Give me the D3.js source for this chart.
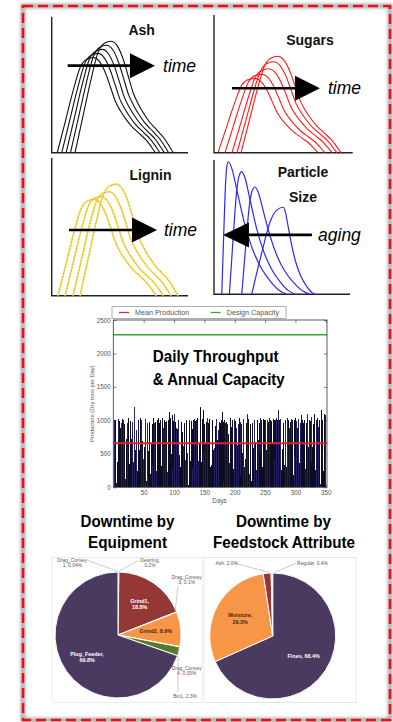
<!DOCTYPE html>
<html>
<head>
<meta charset="utf-8">
<script src="https://d3js.org/d3.v7.min.js"></script>
<style>
  body { margin: 0; background: #fff; }
  svg { display: block; }
</style>
</head>
<body>
<svg id="chart" width="393" height="722"></svg>
<script>
// ---------- data: schematic distributions ----------
// bell profile: [x offset, fraction of peak height]
const bellShape = [[0,0],[5.9,.33],[11.8,.66],[16.9,.9],[21.3,.98],[26.5,1],[30.9,.96],[35.3,.84],[39,.69],[42.6,.54],[46.3,.44],[50,.36],[54.4,.28],[60.3,.2],[65.4,.13],[69.1,.06],[72,0]];
const ashStarts = [4.1, 7.4, 10.6, 13.8, 17.1];
const ashPeaks = [70, 73, 76, 79, 82];
const sugarStarts = [2.9, 7.9, 13, 16.6, 19.5];
const sugarPeaks = [54, 57, 61, 66, 70];
const ligninStarts = [4.6, 9.8, 15.6, 20.8];
const ligninPeaks = [70, 72, 75.5, 81];
// particle size: skewed humps
const sizeRise = [[0,0],[.3,.45],[.6,.85],[.8,.97],[1,1]];
const sizeFall = [[0,1],[.06,.95],[.15,.78],[.27,.55],[.4,.36],[.55,.21],[.72,.1],[.87,.03],[1,0]];
const sizeStarts = [5.7, 11.3, 20.4, 27.7];
const sizePeakX = [10.5, 20.4, 30.1, 51];
const sizePeakH = [98.7, 91.3, 79.9, 64.8];
const sizeEnds = [53.4, 59.8, 70.6, 74.3];

// ---------- data: daily throughput ----------
const production = [
  450,1000,620,1010,60,940,380,1020,700,990,210,880,300,960,1020,530,1010,640,950,120,1000,720,960,480,1040,
  910,350,990,1010,720,160,980,380,1020,1200,560,160,860,990,250,1000,810,560,970,1030,90,1000,690,1050,420,
  600,990,1020,300,100,960,1090,540,850,980,200,970,640,950,330,1030,700,960,150,980,250,990,1010,590,1030,
  960,430,1000,320,980,1040,170,890,1010,600,980,280,990,230,960,1010,480,1130,1030,700,500,1080,260,990,1110,
  1090,980,60,890,540,870,1010,750,480,950,300,980,280,830,990,620,960,850,410,960,1000,520,920,30,1010,
  960,400,980,990,870,280,1010,570,1020,990,160,1000,900,1030,390,1060,640,990,1200,380,980,1020,1160,520,940,
  1050,660,200,980,1040,450,960,760,1020,300,960,340,1000,1050,560,1010,590,920,180,1020,990,700,860,420,980,
  220,960,1000,560,1130,980,80,1000,60,960,630,980,940,330,800,370,980,1040,600,900,1010,250,280,1000,1020,
  990,450,890,960,630,940,260,1040,980,170,940,890,520,960,1020,300,860,420,960,1000,1100,630,1020,200,1000,
  950,380,100,960,1010,580,940,1000,680,1010,260,880,1000,700,400,960,1040,520,1010,990,310,1020,60,1000,980,
  1010,560,1020,1000,470,970,1040,290,1000,870,990,640,220,1020,1000,410,1000,1010,1040,580,1000,1150,60,1000,1020,
  930,260,1010,570,960,1020,340,990,1000,300,960,1040,610,1010,880,150,970,1020,630,1000,960,180,1010,480,1040,
  1100,990,880,350,1020,1000,360,960,1010,1080,560,1000,960,560,1000,1090,270,960,980,1100,600,120,1000,1010,990,
  1050,380,600,1060,940,1100,420,260,980,1010,1030,560,900,1060,1000,50,1090,1160,1170,1010,240,1100,1090,300,1080
];
const meanProduction = 660;
const designCapacity = 2280;
const yTicks = [0, 500, 1000, 1500, 2000, 2500];
const xTicks = [50, 100, 150, 200, 250, 300, 350];

// ---------- data: downtime pies ----------
const equipNames = ["Drag_Conveyor1", "Destring", "Grind1", "Drag_Conveyor3", "Grind2", "Drag_Conveyor4", "Bin1", "Plug_Feeder"];
const equipShare = [0.04, 0.2, 18.8, 0.1, 8.9, 0.05, 2.3, 69.8];
const equipColors = ["#4f81bd", "#c0504d", "#953735", "#8064a2", "#f79646", "#4bacc6", "#567a2c", "#4b3a60"];
const feedNames = ["Fines", "Moisture", "Ash", "Regular"];
const feedShare = [68.4, 29.3, 2.0, 0.4];
const feedColors = ["#4b3a60", "#f79646", "#953735", "#8eb4e3"];

const svg = d3.select("#chart");

// ---------- dashed frame with soft shadow ----------
const defs = svg.append("defs");
defs.append("filter").attr("id", "soft").attr("x", "-5%").attr("y", "-5%").attr("width", "110%").attr("height", "110%")
  .append("feGaussianBlur").attr("stdDeviation", 1.8);
svg.append("rect").attr("x", 23).attr("y", 6).attr("width", 367).attr("height", 714)
  .attr("fill", "none").attr("stroke", "#b4b4b4").attr("stroke-width", 5).attr("filter", "url(#soft)");
svg.append("rect").attr("x", 23).attr("y", 6).attr("width", 367).attr("height", 714)
  .attr("fill", "none").attr("stroke", "#e8101a").attr("stroke-width", 2.6).attr("stroke-dasharray", "10,5");

// ---------- schematic panels ----------
const panels = [
  {x0: 51.7, x1: 188, y0: 16.7, y1: 152.7},   // Ash
  {x0: 214, x1: 352.7, y0: 15, y1: 152.7},    // Sugars
  {x0: 51.7, x1: 188, y0: 158, y1: 295.7},    // Lignin
  {x0: 214, x1: 350, y0: 160, y1: 294.3}      // Particle size
];
panels.forEach(p => {
  p.xs = d3.scaleLinear([0, 100], [p.x0, p.x1]);
  p.ys = d3.scaleLinear([0, 100], [p.y1, p.y0]);
  p.g = svg.append("g");
  p.g.append("path")
    .attr("d", `M${p.x0},${p.y0}V${p.y1}H${p.x1}`)
    .attr("fill", "none").attr("stroke", "#222").attr("stroke-width", 1.4);
});

function curveLine(p) {
  return d3.line().x(d => p.xs(d[0])).y(d => p.ys(d[1])).curve(d3.curveMonotoneX);
}
function bell(start, peak) {
  return bellShape.map(([u, v]) => [start + u, v * peak]);
}

// Ash
panels[0].g.selectAll("path.c").data(ashStarts).join("path").attr("class", "c")
  .attr("d", (s, i) => curveLine(panels[0])(bell(s, ashPeaks[i])))
  .attr("fill", "none").attr("stroke", "#111").attr("stroke-width", 1.1);
// Sugars
panels[1].g.selectAll("path.c").data(sugarStarts).join("path").attr("class", "c")
  .attr("d", (s, i) => curveLine(panels[1])(bell(s, sugarPeaks[i])))
  .attr("fill", "none").attr("stroke", "#ff1a1a").attr("stroke-width", 1.1);
// Lignin: yellow with dotted red core
panels[2].g.selectAll("path.c").data(ligninStarts).join("path").attr("class", "c")
  .attr("d", (s, i) => curveLine(panels[2])(bell(s, ligninPeaks[i])))
  .attr("fill", "none").attr("stroke", "#f0e040").attr("stroke-width", 1.7);
panels[2].g.selectAll("path.d").data(ligninStarts).join("path").attr("class", "d")
  .attr("d", (s, i) => curveLine(panels[2])(bell(s, ligninPeaks[i])))
  .attr("fill", "none").attr("stroke", "#e06a5a").attr("stroke-width", 0.7).attr("stroke-dasharray", "1,2.2");
// Particle size
panels[3].g.selectAll("path.c").data(sizeStarts).join("path").attr("class", "c")
  .attr("d", (s, i) => {
    const pk = sizePeakX[i], e = sizeEnds[i], h = sizePeakH[i];
    const pts = sizeRise.map(([t, v]) => [s + t * (pk - s), v * h])
      .concat(sizeFall.slice(1).map(([t, v]) => [pk + t * (e - pk), v * h]));
    return curveLine(panels[3])(pts);
  })
  .attr("fill", "none").attr("stroke", "#2b2bf0").attr("stroke-width", 1.2);

// arrows and labels (panel units)
const arrows = [
  {from: 11.7, base: 57.4, tip: 75.8, y: 64, word: "time", wx: 81.7},
  {from: 13, base: 58.4, tip: 76.4, y: 46.8, word: "time", wx: 82.2},
  {from: 12.7, base: 58.9, tip: 77.3, y: 47.7, word: "time", wx: 82.4},
  {from: 72, base: 25.7, tip: 6.6, y: 44.2, word: "aging", wx: 76.5}
];
arrows.forEach((a, i) => {
  const p = panels[i];
  const yy = p.ys(a.y);
  p.g.append("line").attr("x1", p.xs(a.from)).attr("x2", p.xs(a.base)).attr("y1", yy).attr("y2", yy)
    .attr("stroke", "#000").attr("stroke-width", 2.7);
  p.g.append("path")
    .attr("d", `M${p.xs(a.base)},${yy - 12.5}L${p.xs(a.tip)},${yy}L${p.xs(a.base)},${yy + 12.5}Z`)
    .attr("fill", "#000");
  p.g.append("text").attr("x", p.xs(a.wx)).attr("y", yy).attr("dy", "0.35em")
    .attr("font-family", "Liberation Sans, Arial, sans-serif").attr("font-style", "italic")
    .attr("font-size", 17.5).attr("fill", "#000").text(a.word);
});
const panelTitles = [
  [{t: "Ash", x: 66, y: 86.5}],
  [{t: "Sugars", x: 69.2, y: 78.2}],
  [{t: "Lignin", x: 72.5, y: 84}],
  [{t: "Particle", x: 65.4, y: 87.2}, {t: "Size", x: 65.4, y: 68.6}]
];
panelTitles.forEach((ts, i) => {
  const p = panels[i];
  ts.forEach(t => {
    p.g.append("text").attr("x", p.xs(t.x)).attr("y", p.ys(t.y)).attr("text-anchor", "middle")
      .attr("font-family", "Liberation Sans, Arial, sans-serif").attr("font-weight", "bold")
      .attr("font-size", 14).attr("fill", "#111").text(t.t);
  });
});

// ---------- daily throughput bar chart ----------
const plot = {left: 113.3, right: 327, top: 320, bottom: 487.3};
const x = d3.scaleLinear([0, 352], [plot.left, plot.right]);
const y = d3.scaleLinear([0, 2500], [plot.bottom, plot.top]);
const bc = svg.append("g");
const bw = x(1.15) - x(0);
bc.selectAll("rect.bar").data(production).join("rect").attr("class", "bar")
  .attr("x", (d, i) => x(i + 1) - bw / 2).attr("width", bw)
  .attr("y", d => y(d)).attr("height", d => y(0) - y(d))
  .attr("fill", (d, i) => i % 3 === 1 ? "#232360" : "#0c0c22")
  .attr("shape-rendering", "crispEdges");
bc.append("line").attr("x1", plot.left).attr("x2", plot.right).attr("y1", y(meanProduction)).attr("y2", y(meanProduction))
  .attr("stroke", "#d9262b").attr("stroke-width", 2);
bc.append("line").attr("x1", plot.left).attr("x2", plot.right).attr("y1", y(designCapacity)).attr("y2", y(designCapacity))
  .attr("stroke", "#3aa63a").attr("stroke-width", 1.6);
bc.append("rect").attr("x", plot.left).attr("y", plot.top).attr("width", plot.right - plot.left).attr("height", plot.bottom - plot.top)
  .attr("fill", "none").attr("stroke", "#333").attr("stroke-width", 0.8);

const tickFont = "Liberation Sans, Arial, sans-serif";
const yl = bc.append("g").attr("transform", `translate(${plot.left},0)`)
  .call(d3.axisLeft(y).tickValues(yTicks).tickFormat(d3.format("d")).tickSize(-3).tickPadding(2.5));
const yr = bc.append("g").attr("transform", `translate(${plot.right},0)`)
  .call(d3.axisRight(y).tickValues(yTicks).tickSize(-3).tickFormat(""));
const xb = bc.append("g").attr("transform", `translate(0,${plot.bottom})`)
  .call(d3.axisBottom(x).tickValues(xTicks).tickFormat(d3.format("d")).tickSize(-3).tickPadding(3));
const xt = bc.append("g").attr("transform", `translate(0,${plot.top})`)
  .call(d3.axisTop(x).tickValues(xTicks).tickSize(-3).tickFormat(""));
[yl, yr, xb, xt].forEach(a => {
  a.select(".domain").remove();
  a.selectAll(".tick line").attr("stroke", "#333").attr("stroke-width", 0.6);
  a.selectAll("text").attr("font-family", tickFont).attr("font-size", 6.3).attr("fill", "#555");
});
bc.append("text").attr("x", x(175)).attr("y", 503).attr("text-anchor", "middle")
  .attr("font-family", tickFont).attr("font-size", 6.3).attr("fill", "#555").text("Days");
bc.append("text").attr("transform", `translate(93.5,${y(1250)}) rotate(-90)`).attr("text-anchor", "middle")
  .attr("font-family", tickFont).attr("font-size", 5.8).attr("fill", "#555").text("Production (Dry tons per Day)");

// legend
const lg = bc.append("g");
lg.append("rect").attr("x", 112).attr("y", 306.7).attr("width", 174).attr("height", 11.6)
  .attr("fill", "#fff").attr("stroke", "#777").attr("stroke-width", 0.6);
const legendItems = [
  {label: "Mean Production", color: "#d9262b", x: 119},
  {label: "Design Capacity", color: "#3aa63a", x: 210.7}
];
legendItems.forEach(it => {
  lg.append("line").attr("x1", it.x).attr("x2", it.x + 10).attr("y1", 312.5).attr("y2", 312.5)
    .attr("stroke", it.color).attr("stroke-width", 1.3);
  lg.append("text").attr("x", it.x + 16).attr("y", 312.5).attr("dy", "0.35em")
    .attr("font-family", tickFont).attr("font-size", 7.2).attr("fill", "#555").text(it.label);
});
const titleFont = "Liberation Sans, Arial, sans-serif";
[["Daily Throughput", 361.7, 126], ["& Annual Capacity", 385, 132]].forEach(([t, yy, w]) => {
  bc.append("text").attr("x", 152.7).attr("y", yy).attr("textLength", w).attr("lengthAdjust", "spacingAndGlyphs")
    .attr("font-family", titleFont).attr("font-weight", "bold").attr("font-size", 16.3).attr("fill", "#000").text(t);
});

// ---------- downtime pies ----------
[["Downtime by", 127.5, 526.7, 94], ["Equipment", 127.5, 548.4, 79],
 ["Downtime by", 283.5, 526.7, 95], ["Feedstock Attribute", 284, 548.4, 142]].forEach(([t, xx, yy, w]) => {
  svg.append("text").attr("x", xx - w / 2).attr("y", yy).attr("textLength", w).attr("lengthAdjust", "spacingAndGlyphs")
    .attr("font-family", titleFont).attr("font-weight", "bold").attr("font-size", 16.3).attr("fill", "#000").text(t);
});
// chart area outlines
svg.append("rect").attr("x", 52).attr("y", 557.5).attr("width", 150).attr("height", 145)
  .attr("fill", "none").attr("stroke", "#e4e4e4").attr("stroke-width", 0.7);
svg.append("rect").attr("x", 204).attr("y", 557.5).attr("width", 152).attr("height", 145)
  .attr("fill", "none").attr("stroke", "#dcdcdc").attr("stroke-width", 0.7);

const pie = d3.pie().sort(null).value(d => d);
const R = 63;
const arc = d3.arc().innerRadius(0).outerRadius(R);
const smallFont = "Liberation Sans, Arial, sans-serif";

function drawPie(cx, cy, shares, colors, labelR, inside, outside) {
  const g = svg.append("g").attr("transform", `translate(${cx},${cy})`);
  const arcs = pie(shares);
  g.selectAll("path").data(arcs).join("path").attr("d", arc)
    .attr("fill", (d, i) => colors[i]).attr("stroke", "#fff").attr("stroke-width", 1);
  const la = d3.arc().innerRadius(labelR).outerRadius(labelR);
  inside.forEach(l => {
    const [lx, ly] = la.centroid(arcs[l.i]);
    const t = g.append("text").attr("x", lx).attr("y", ly).attr("text-anchor", "middle")
      .attr("font-family", smallFont).attr("font-weight", "bold").attr("font-size", 5.4).attr("fill", l.color);
    l.lines.forEach((s, k) => t.append("tspan").attr("x", lx).attr("dy", k === 0 ? (l.lines.length > 1 ? "-0.15em" : "0.35em") : "1.15em").text(s));
  });
  outside.forEach(l => {
    if (l.leader) g.append("polyline").attr("points", l.leader.map(p => p.join(",")).join(" "))
      .attr("fill", "none").attr("stroke", "#999").attr("stroke-width", 0.5);
    const t = g.append("text").attr("x", l.dx).attr("y", l.dy).attr("text-anchor", "middle")
      .attr("font-family", smallFont).attr("font-size", 4.9).attr("fill", "#595959");
    l.lines.forEach((s, k) => t.append("tspan").attr("x", l.dx).attr("dy", k === 0 ? 0 : "1.1em").text(s));
  });
}

drawPie(118, 635, equipShare, equipColors, 38,
  [{i: 2, lines: ["Grind1,", "18.8%"], color: "#fff"},
   {i: 4, lines: ["Grind2, 8.9%"], color: "#3a2a1a"},
   {i: 7, lines: ["Plug_Feeder,", "69.8%"], color: "#fff"}],
  [{lines: ["Drag_Convey", "1, 0.04%"], dx: -45.7, dy: -73, leader: [[-30, -74.5], [0, -63.5]]},
   {lines: ["Destring,", "0.2%"], dx: 32, dy: -73, leader: [[20, -74.5], [0.5, -63.5]]},
   {lines: ["Drag_Convey", "3, 0.1%"], dx: 68.7, dy: -56, leader: [[60, -49], [57, -23]]},
   {lines: ["Drag_Convey", "4, 0.05%"], dx: 68.7, dy: 34.5, leader: null},
   {lines: ["Bin1, 2.3%"], dx: 67, dy: 62.5, leader: [[60, 12], [60, 57]]}]);

drawPie(272.7, 636, feedShare, feedColors, 37,
  [{i: 0, lines: ["Fines, 68.4%"], color: "#fff"},
   {i: 1, lines: ["Moisture,", "29.3%"], color: "#3a2a1a"}],
  [{lines: ["Ash, 2.0%"], dx: -46, dy: -71, leader: [[-37, -72.5], [-3, -63.5]]},
   {lines: ["Regular, 0.4%"], dx: 39.8, dy: -71, leader: [[23, -72.5], [1.5, -63.5]]}]);
</script>
</body>
</html>
